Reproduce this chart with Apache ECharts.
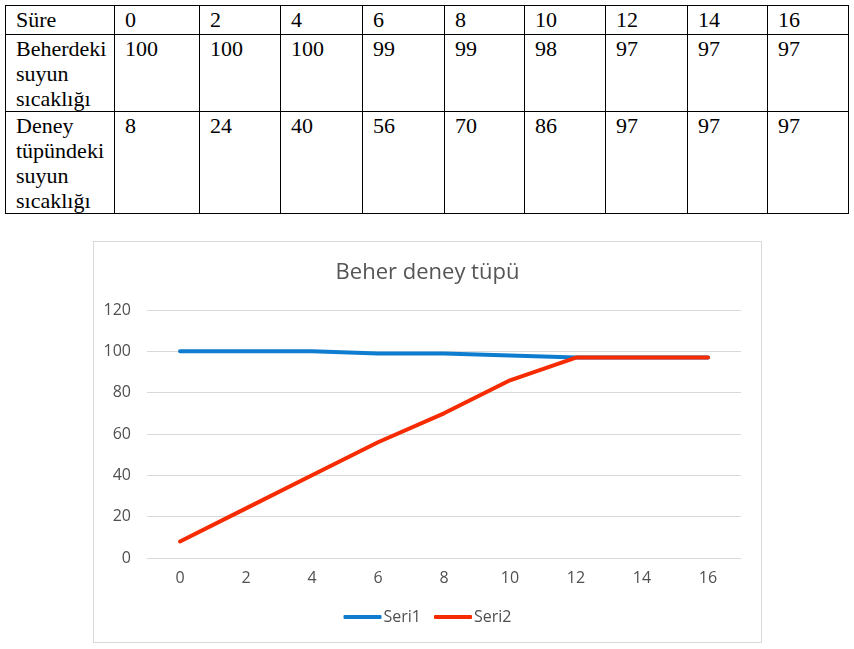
<!DOCTYPE html>
<html>
<head>
<meta charset="utf-8">
<script src="https://cdn.jsdelivr.net/npm/echarts@6/dist/echarts.min.js"></script>
<style>
  body { margin: 0; background: #fff; width: 854px; height: 649px; position: relative; overflow: hidden; }
  table { position: absolute; left: 5px; top: 5px; border-collapse: collapse; table-layout: fixed;
          font-family: "Liberation Serif", "Times New Roman", serif; font-size: 22px; color: #000; }
  td { border: 1px solid #000; vertical-align: top; padding: 1px 0 0 10px; line-height: 25px; }
  tr.first td { padding-bottom: 2px; }
  #chart { position: absolute; left: 93px; top: 241px; width: 667px; height: 400px; border: 1px solid #d9d9d9; }
</style>
</head>
<body>
<table id="tbl"></table>
<div id="chart"></div>
<script>
var sure = ['0', '2', '4', '6', '8', '10', '12', '14', '16'];
var beher = [100, 100, 100, 99, 99, 98, 97, 97, 97];
var tup = [8, 24, 40, 56, 70, 86, 97, 97, 97];
var rowLabels = ['Süre', 'Beherdeki<br>suyun<br>sıcaklığı', 'Deney<br>tüpündeki<br>suyun<br>sıcaklığı'];
var colWidths = [109, 85, 81, 82, 82, 80, 81, 82, 80, 81];

// tablo
var rows = [sure, beher, tup];
var html = '<colgroup>';
colWidths.forEach(function (w) { html += '<col style="width:' + w + 'px">'; });
html += '</colgroup>';
rows.forEach(function (r, i) {
    html += '<tr' + (i === 0 ? ' class="first"' : '') + '><td>' + rowLabels[i] + '</td>';
    r.forEach(function (v) { html += '<td>' + v + '</td>'; });
    html += '</tr>';
});
document.getElementById('tbl').innerHTML = html;

var chart = echarts.init(document.getElementById('chart'));
var option = {
    title: {
        text: 'Beher deney tüpü',
        left: 'center',
        top: 15,
        textStyle: { fontFamily: 'Open Sans', fontSize: 22, fontWeight: 'normal', color: '#555555' }
    },
    legend: {
        data: ['Seri1', 'Seri2'],
        top: 362,
        left: 'center',
        itemWidth: 38,
        itemHeight: 4,
        itemGap: 13,
        icon: 'roundRect',
        textStyle: { fontFamily: 'Open Sans', fontSize: 16, color: '#505050', padding: [0, 0, 0, -3] }
    },
    grid: { left: 53, right: 20, top: 68, bottom: 84 },
    xAxis: {
        type: 'category',
        data: sure,
        axisLine: { lineStyle: { color: '#d9d9d9' } },
        axisTick: { show: false },
        axisLabel: { color: '#505050', fontFamily: 'Open Sans', fontSize: 16, margin: 12 }
    },
    yAxis: {
        type: 'value',
        min: 0,
        max: 120,
        interval: 20,
        axisLine: { show: false },
        axisTick: { show: false },
        splitLine: { lineStyle: { color: '#d9d9d9' } },
        axisLabel: { color: '#505050', fontFamily: 'Open Sans', fontSize: 16, margin: 16 }
    },
    series: [
        {
            name: 'Seri1',
            type: 'line',
            data: beher,
            symbol: 'none',
            lineStyle: { width: 4, color: '#0f7dcf', cap: 'round' },
            itemStyle: { color: '#0f7dcf' }
        },
        {
            name: 'Seri2',
            type: 'line',
            data: tup,
            symbol: 'none',
            lineStyle: { width: 4, color: '#f62b00', cap: 'round' },
            itemStyle: { color: '#f62b00' }
        }
    ]
};
chart.setOption(option);
</script>
</body>
</html>
